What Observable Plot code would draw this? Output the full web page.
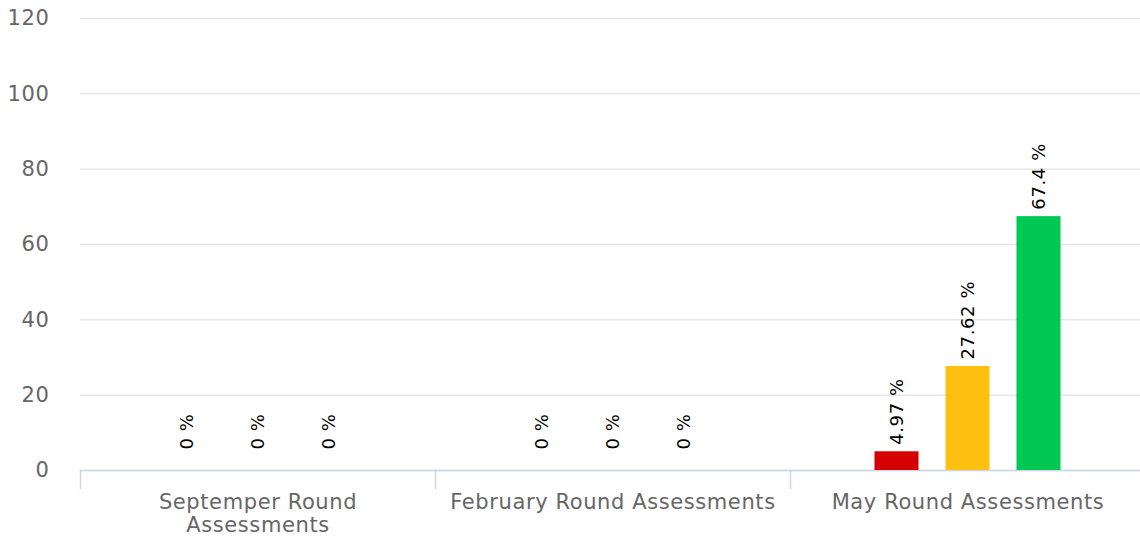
<!DOCTYPE html>
<html>
<head>
<meta charset="utf-8">
<script src="https://cdn.jsdelivr.net/npm/d3@7"></script>
<script src="https://cdn.jsdelivr.net/npm/@observablehq/plot@0.6"></script>
<style>
  html, body { margin: 0; padding: 0; background: #fff; overflow: hidden; }
  #chart svg { display: block; max-width: none !important; }
  #chart svg text { letter-spacing: 0.6px; }
</style>
</head>
<body>
<div id="chart"></div>
<script>
const categories = ["Septemper Round Assessments", "February Round Assessments", "May Round Assessments"];
const categoryLabels = ["Septemper Round\nAssessments", "February Round Assessments", "May Round Assessments"];
const series = ["Red", "Amber", "Green"];
const redValues = [0, 0, 4.97];
const amberValues = [0, 0, 27.62];
const greenValues = [0, 0, 67.4];
const yTicks = [0, 20, 40, 60, 80, 100, 120];

const seriesValues = [redValues, amberValues, greenValues];
const table = [];
categories.forEach((c, i) => {
  series.forEach((s, j) => {
    table.push({category: c, series: s, value: seriesValues[j][i]});
  });
});

const font = "DejaVu Sans";

const chart = Plot.plot({
  width: 1145,
  height: 544,
  marginLeft: 80,
  marginRight: 0,
  marginTop: 18,
  marginBottom: 74,
  style: {fontFamily: font, background: "#fff", overflow: "hidden", maxWidth: "none"},
  fx: {domain: categories, padding: 0, axis: null, round: false},
  x: {domain: series, paddingInner: 0.38, paddingOuter: 1.19, axis: null, round: false},
  y: {domain: [0, 120], axis: null},
  color: {domain: series, range: ["#d50000", "#fdc010", "#00c853"]},
  marks: [
    Plot.gridY(yTicks, {stroke: "#e6e6e6", strokeOpacity: 1, strokeWidth: 1.5}),
    Plot.axisY(yTicks, {tickSize: 0, tickPadding: 31, fontSize: 21, fill: "#666", label: null}),
    Plot.ruleY([0], {stroke: "#ccd6eb", strokeWidth: 1.5}),
    Plot.frame({anchor: "left", stroke: "#ccd6eb", strokeWidth: 1.5, insetTop: 452, insetBottom: -18}),
    Plot.axisFx({
      anchor: "bottom",
      tickSize: 0,
      tickPadding: 22,
      fontSize: 21,
      lineHeight: 1.1,
      fill: "#666",
      label: null,
      tickFormat: d => categoryLabels[categories.indexOf(d)]
    }),
    Plot.barY(table, {fx: "category", x: "series", y: "value", fill: "series"}),
    Plot.text(table.filter(d => d.value > 0), {
      fx: "category", x: "series", y: "value",
      text: d => `${d.value} %`,
      rotate: -90, textAnchor: "start", lineAnchor: "middle",
      dy: -7, fontSize: 18, fill: "#000"
    }),
    Plot.text(table.filter(d => d.value === 0), {
      fx: "category", x: "series", y: "value",
      text: d => `${d.value} %`,
      rotate: -90, textAnchor: "start", lineAnchor: "middle",
      dy: -21, fontSize: 18, fill: "#000"
    })
  ]
});
document.getElementById("chart").appendChild(chart);
</script>
</body>
</html>
